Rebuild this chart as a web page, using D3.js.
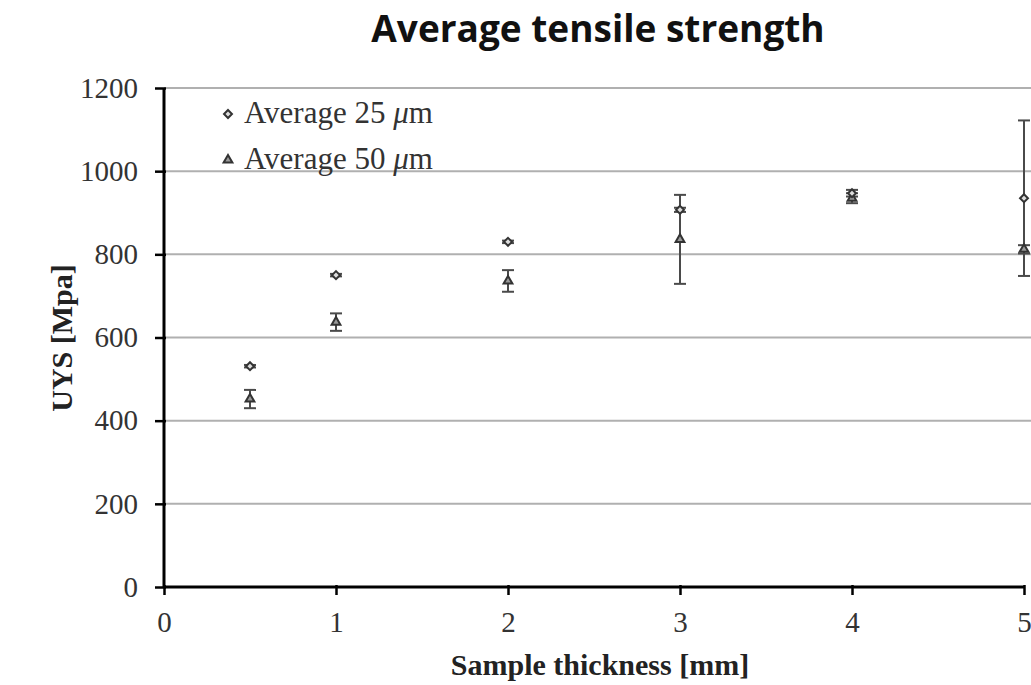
<!DOCTYPE html>
<html><head><meta charset="utf-8">
<script src="https://cdn.jsdelivr.net/npm/d3@7"></script>
<style>body{margin:0;background:#fff}svg{display:block}</style>
</head><body>
<svg id="c" width="1031" height="685"></svg>
<script>
const thickness = [0.5, 1, 2, 3, 4, 5];
const avg25 = [531, 750, 830, 907, 947, 935];
const err25 = [3, 3, 3, 5, 8, 187];
const avg50 = [452, 637, 736, 836, 935, 812];
const err50 = [22, 21, 26, 107, 12, 10];
const xTicks = [0, 1, 2, 3, 4, 5];
const yTicks = [0, 200, 400, 600, 800, 1000, 1200];
const seriesNames = ["Average 25 ", "Average 50 "];

const svg = d3.select("#c");
const x = d3.scaleLinear().domain([0, 5]).range([164, 1024]);
const y = d3.scaleLinear().domain([0, 1200]).range([587, 88]);
const serif = "'Liberation Serif','Times New Roman',serif";

// title
svg.append("text").attr("x", 598).attr("y", 42).attr("text-anchor", "middle")
  .attr("font-family", "'Open Sans','Liberation Sans',sans-serif").attr("font-weight", "bold")
  .attr("font-size", 37).attr("fill", "#111").text("Average tensile strength");

// gridlines
svg.append("g").selectAll("line").data(yTicks.filter(d => d > 0)).join("line")
  .attr("x1", 164).attr("x2", 1031).attr("y1", d => y(d)).attr("y2", d => y(d))
  .attr("stroke", "#b0b0b0").attr("stroke-width", 2);

// axes
const yAxis = d3.axisLeft(y).tickValues(yTicks).tickSize(9).tickPadding(17).tickFormat(d3.format("d"));
const gy = svg.append("g").attr("transform", "translate(164,0)").call(yAxis);
gy.select(".domain").attr("stroke", "#000").attr("stroke-width", 3).attr("d", `M0,${y(1200)}V${y(0)}`);
gy.selectAll(".tick line").attr("stroke", "#000").attr("stroke-width", 2.5).attr("x2", -9).attr("x1", 2);
gy.selectAll(".tick text").attr("font-family", serif).attr("font-size", 29).attr("fill", "#333");

const xAxis = d3.axisBottom(x).tickValues(xTicks).tickSize(8).tickPadding(16).tickFormat(d3.format("d"));
const gx = svg.append("g").attr("transform", "translate(0,587)").call(xAxis);
gx.select(".domain").attr("stroke", "#000").attr("stroke-width", 3).attr("d", `M${x(0)},0H${x(5)}`);
gx.selectAll(".tick line").attr("stroke", "#000").attr("stroke-width", 2.5).attr("y1", -2);
gx.selectAll(".tick text").attr("font-family", serif).attr("font-size", 29).attr("fill", "#333");

// axis titles
svg.append("text").attr("x", 600).attr("y", 675).attr("text-anchor", "middle")
  .attr("font-family", serif).attr("font-weight", "bold").attr("font-size", 30).attr("fill", "#222")
  .text("Sample thickness [mm]");
svg.append("text").attr("transform", "translate(72,338) rotate(-90)").attr("text-anchor", "middle")
  .attr("font-family", serif).attr("font-weight", "bold").attr("font-size", 30).attr("fill", "#222")
  .text("UYS [Mpa]");

const col = "#4a4a4a";
function errorBars(vals, errs) {
  const g = svg.append("g");
  thickness.forEach((t, i) => {
    const cx = x(t), y1 = y(vals[i] + errs[i]), y2 = y(vals[i] - errs[i]);
    g.append("line").attr("x1", cx).attr("x2", cx).attr("y1", y1).attr("y2", y2).attr("stroke", col).attr("stroke-width", 2);
    [y1, y2].forEach(yy => g.append("line").attr("x1", cx - 6).attr("x2", cx + 6).attr("y1", yy).attr("y2", yy).attr("stroke", col).attr("stroke-width", 2));
  });
}
errorBars(avg50, err50);
errorBars(avg25, err25);

const diamond = d3.symbol().type(d3.symbolDiamond2).size(40);
const tri = d3.symbol().type(d3.symbolTriangle2).size(55);
svg.append("g").selectAll("path").data(thickness).join("path")
  .attr("d", tri).attr("transform", (d, i) => `translate(${x(d)},${y(avg50[i])})`)
  .attr("fill", "#999").attr("stroke", "#333").attr("stroke-width", 2);
svg.append("g").selectAll("path").data(thickness).join("path")
  .attr("d", diamond).attr("transform", (d, i) => `translate(${x(d)},${y(avg25[i])})`)
  .attr("fill", "#ddd").attr("stroke", "#333").attr("stroke-width", 2);

// legend
const leg = svg.append("g");
[[diamond, 114, "#ddd", 123], [tri, 160, "#999", 169]].forEach(([sym, ly, fill, by], i) => {
  leg.append("path").attr("d", sym).attr("transform", `translate(228,${ly})`)
    .attr("fill", fill).attr("stroke", "#333").attr("stroke-width", 2);
  const t = leg.append("text").attr("x", 244).attr("y", by).attr("font-family", serif)
    .attr("font-size", 31).attr("fill", "#333");
  t.append("tspan").text(seriesNames[i]);
  t.append("tspan").attr("font-style", "italic").text("μ");
  t.append("tspan").text("m");
});
</script>
</body></html>
